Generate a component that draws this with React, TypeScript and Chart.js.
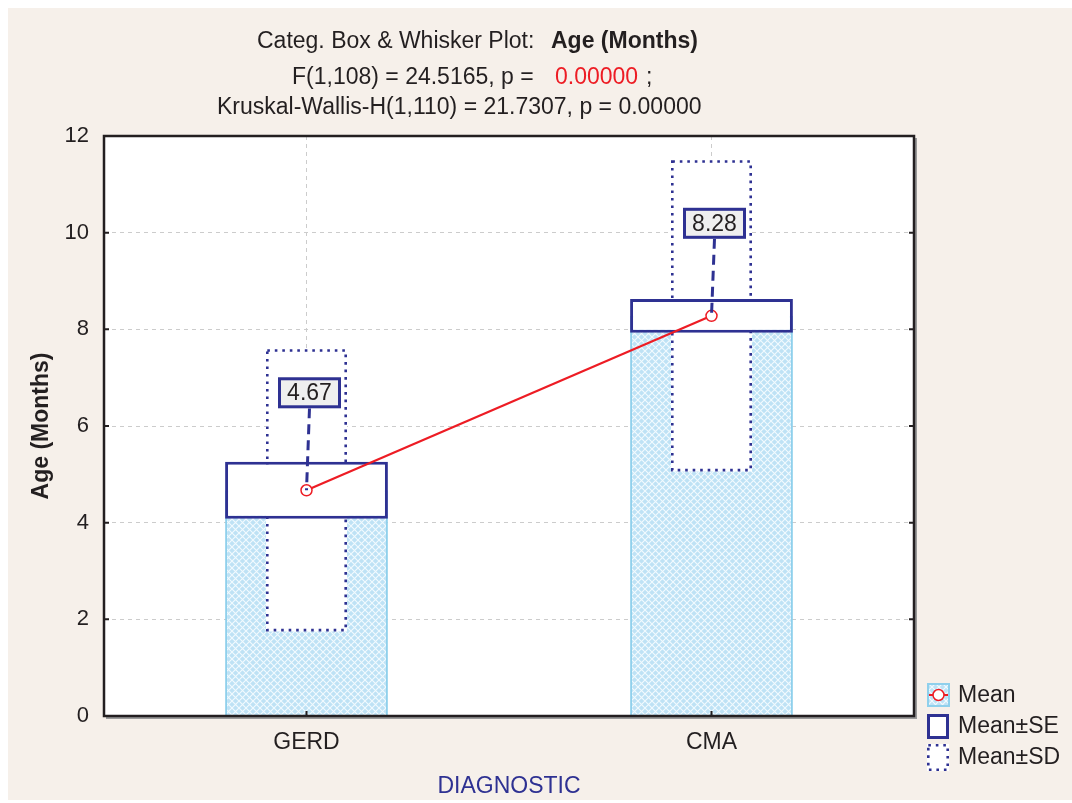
import React, { useEffect, useRef } from 'react';
import { Chart, registerables } from 'chart.js';

Chart.register(...registerables);

// ---- data ----
const categories = ['GERD', 'CMA'];
const meanValues = [4.67, 8.28];
const seValues = [0.59, 0.35];
const sdValues = [2.92, 3.22];
const yTicks = [0, 2, 4, 6, 8, 10, 12];

const titleLine1 = 'Categ. Box & Whisker Plot:';
const titleVar = 'Age (Months)';
const titleLine2 = 'F(1,108) = 24.5165, p =';
const titleP = '0.00000';
const titleLine3 = 'Kruskal-Wallis-H(1,110) = 21.7307, p = 0.00000';
const legendLabels = ['Mean', 'Mean\u00B1SE', 'Mean\u00B1SD'];

// ---- style ----
const FONT = "'Liberation Sans', Arial, Helvetica, sans-serif";
const NAVY = '#2e3192';
const RED = '#ed1c24';
const INK = '#231f20';
const BEIGE = '#f6f0ea';
const BAR_EDGE = '#8fd0ec';
const GRID = '#cccccc';
const FS = 23;
const W = 1064;
const H = 792;

function makeHatch(): CanvasPattern | string {
  const n = 7;
  const c = document.createElement('canvas');
  c.width = n;
  c.height = n;
  const g = c.getContext('2d');
  if (!g) return '#c8e8f7';
  g.fillStyle = '#bee2f5';
  g.fillRect(0, 0, n, n);
  g.strokeStyle = '#f2fafe';
  g.lineWidth = 1.1;
  g.beginPath();
  g.moveTo(0, 0);
  g.lineTo(n, n);
  g.moveTo(n, 0);
  g.lineTo(0, n);
  g.stroke();
  return g.createPattern(c, 'repeat') || '#c8e8f7';
}

function dottedRect(ctx: CanvasRenderingContext2D, l: number, t: number, r: number, b: number) {
  ctx.save();
  ctx.strokeStyle = NAVY;
  ctx.lineWidth = 2.6;
  ctx.setLineDash([2.6, 4.9]);
  ctx.lineCap = 'butt';
  const i = 1.3;
  ctx.strokeRect(l + i, t + i, r - l - 2 * i, b - t - 2 * i);
  ctx.restore();
}

const decorPlugin = {
  id: 'decor',
  beforeDraw(chart: any) {
    const { ctx, chartArea: a } = chart;
    ctx.save();
    ctx.fillStyle = '#ffffff';
    ctx.fillRect(a.left, a.top, a.right - a.left, a.bottom - a.top);
    ctx.restore();
  },
  afterDatasetDraw(chart: any, args: any) {
    if (args.index !== 1) return;
    const ctx = chart.ctx;
    const meta = chart.getDatasetMeta(1);
    meta.data.forEach((el: any) => {
      const p = el.getProps(['x', 'y', 'base', 'width'], true);
      const top = Math.min(p.y, p.base);
      const bot = Math.max(p.y, p.base);
      dottedRect(ctx, p.x - p.width / 2, top, p.x + p.width / 2, bot);
    });
  },
  afterDatasetsDraw(chart: any, _args: any, opts: any) {
    const { ctx, chartArea: a, scales } = chart;
    const lineMeta = chart.getDatasetMeta(3);
    const offsets: number[] = opts.labelOffsets || [80, 80];
    lineMeta.data.forEach((pt: any, i: number) => {
      const px = pt.x;
      const py = pt.y;
      const cx = px + 3;
      const bottom = py - offsets[i];
      const bw = 63;
      const bh = 31;
      ctx.save();
      ctx.strokeStyle = NAVY;
      ctx.lineWidth = 3;
      ctx.setLineDash([10, 6]);
      ctx.beginPath();
      ctx.moveTo(cx, bottom);
      ctx.lineTo(px, py);
      ctx.stroke();
      ctx.setLineDash([]);
      ctx.fillStyle = '#efefef';
      ctx.fillRect(cx - bw / 2, bottom - bh, bw, bh);
      ctx.lineWidth = 3;
      ctx.strokeRect(cx - bw / 2 + 1.5, bottom - bh + 1.5, bw - 3, bh - 3);
      ctx.fillStyle = INK;
      ctx.font = `${FS}px ${FONT}`;
      ctx.textAlign = 'center';
      ctx.textBaseline = 'middle';
      ctx.fillText(meanValues[i].toFixed(2), cx, bottom - bh / 2 + 1);
      ctx.restore();
    });
    // frame with shadow
    ctx.save();
    ctx.strokeStyle = '#9a9a9a';
    ctx.lineWidth = 2;
    ctx.beginPath();
    ctx.moveTo(a.right + 2, a.top + 2);
    ctx.lineTo(a.right + 2, a.bottom + 2);
    ctx.lineTo(a.left + 2, a.bottom + 2);
    ctx.stroke();
    ctx.strokeStyle = INK;
    ctx.lineWidth = 2.5;
    ctx.strokeRect(a.left, a.top, a.right - a.left, a.bottom - a.top);
    ctx.lineWidth = 2;
    ctx.beginPath();
    scales.y.ticks.forEach((t: any) => {
      const y = scales.y.getPixelForValue(t.value);
      ctx.moveTo(a.left, y);
      ctx.lineTo(a.left + 5, y);
      ctx.moveTo(a.right, y);
      ctx.lineTo(a.right - 5, y);
    });
    categories.forEach((_c, i) => {
      const x = scales.x.getPixelForValue(i);
      ctx.moveTo(x, a.bottom);
      ctx.lineTo(x, a.bottom - 5);
    });
    ctx.stroke();
    ctx.restore();
  },
  afterDraw(chart: any) {
    const ctx: CanvasRenderingContext2D = chart.ctx;
    ctx.save();
    ctx.textAlign = 'left';
    ctx.textBaseline = 'alphabetic';
    ctx.fillStyle = INK;
    ctx.font = `${FS}px ${FONT}`;
    ctx.fillText(titleLine1, 249, 40);
    ctx.font = `bold ${FS}px ${FONT}`;
    ctx.fillText(titleVar, 543, 40);
    ctx.font = `${FS}px ${FONT}`;
    ctx.fillText(titleLine2, 284, 76);
    ctx.fillStyle = RED;
    ctx.fillText(titleP, 547, 76);
    ctx.fillStyle = INK;
    ctx.fillText(';', 638, 76);
    ctx.fillText(titleLine3, 209, 106);

    // legend
    const lx = 919;
    const ys = [687, 718, 749];
    ctx.fillStyle = chart.$hatch;
    ctx.fillRect(lx, ys[0] - 12, 23, 24);
    ctx.strokeStyle = BAR_EDGE;
    ctx.lineWidth = 2;
    ctx.strokeRect(lx + 1, ys[0] - 11, 21, 22);
    ctx.strokeStyle = RED;
    ctx.lineWidth = 2;
    ctx.beginPath();
    ctx.moveTo(lx + 2, ys[0]);
    ctx.lineTo(lx + 21, ys[0]);
    ctx.stroke();
    ctx.fillStyle = '#ffffff';
    ctx.beginPath();
    ctx.arc(lx + 11.5, ys[0], 5.5, 0, Math.PI * 2);
    ctx.fill();
    ctx.lineWidth = 1.5;
    ctx.stroke();
    ctx.fillStyle = '#ffffff';
    ctx.fillRect(lx, ys[1] - 12, 22, 25);
    ctx.strokeStyle = NAVY;
    ctx.lineWidth = 3;
    ctx.strokeRect(lx + 1.5, ys[1] - 10.5, 19, 22);
    ctx.fillStyle = '#ffffff';
    ctx.fillRect(lx, ys[2] - 13, 22, 27);
    dottedRect(ctx, lx, ys[2] - 13, lx + 22, ys[2] + 14);

    ctx.fillStyle = INK;
    ctx.font = `${FS}px ${FONT}`;
    ctx.textBaseline = 'middle';
    legendLabels.forEach((t, i) => ctx.fillText(t, 950, ys[i] + 1));
    ctx.restore();
  },
};

export default function App() {
  const ref = useRef<HTMLCanvasElement | null>(null);

  useEffect(() => {
    if (!ref.current) return;
    const hatch = makeHatch();
    const chart = new Chart(ref.current, {
      type: 'bar',
      data: {
        labels: categories,
        datasets: [
          {
            type: 'bar',
            label: 'Mean',
            data: meanValues,
            backgroundColor: hatch as any,
            borderColor: BAR_EDGE,
            borderWidth: 2,
            borderSkipped: 'start',
            grouped: false,
            categoryPercentage: 1,
            barPercentage: 0.402,
            order: 4,
          },
          {
            type: 'bar',
            label: 'Mean±SD',
            data: meanValues.map((m, i) => [m - sdValues[i], m + sdValues[i]]) as any,
            backgroundColor: '#ffffff',
            borderWidth: 0,
            grouped: false,
            categoryPercentage: 1,
            barPercentage: 0.2,
            order: 3,
          },
          {
            type: 'bar',
            label: 'Mean±SE',
            data: meanValues.map((m, i) => [m - seValues[i], m + seValues[i]]) as any,
            backgroundColor: '#ffffff',
            borderColor: NAVY,
            borderWidth: 3,
            borderSkipped: false,
            grouped: false,
            categoryPercentage: 1,
            barPercentage: 0.402,
            order: 2,
          },
          {
            type: 'line',
            label: 'Mean line',
            data: meanValues,
            borderColor: RED,
            borderWidth: 2.2,
            pointRadius: 5.5,
            pointBackgroundColor: '#ffffff',
            pointBorderColor: RED,
            pointBorderWidth: 1.5,
            order: 1,
          } as any,
        ],
      },
      options: {
        responsive: false,
        animation: false,
        events: [],
        layout: { padding: { top: 128, right: 158, left: 0, bottom: 0 } },
        scales: {
          x: {
            type: 'category',
            offset: true,
            grid: { offset: false, drawTicks: false, color: GRID, lineWidth: 1 },
            border: { display: false, dash: [4, 4] },
            ticks: { color: INK, padding: 13, font: { family: FONT, size: FS } },
            title: {
              display: true,
              text: 'DIAGNOSTIC',
              color: NAVY,
              font: { family: FONT, size: FS },
              padding: { top: 0, bottom: 0 },
            },
            afterFit: (s: any) => {
              s.height = 84;
            },
          },
          y: {
            min: 0,
            max: 12,
            afterBuildTicks: (s: any) => {
              s.ticks = yTicks.map((v) => ({ value: v }));
            },
            grid: { drawTicks: false, color: GRID, lineWidth: 1 },
            border: { display: false, dash: [4, 4] },
            ticks: { color: INK, padding: 15, font: { family: FONT, size: 22 } },
            title: {
              display: true,
              text: 'Age (Months)',
              color: INK,
              font: { family: FONT, size: FS, weight: 'bold' },
              padding: { top: 20, bottom: 0 },
            },
            afterFit: (s: any) => {
              s.width = 96;
            },
          },
        },
        plugins: {
          legend: { display: false },
          tooltip: { enabled: false },
          title: { display: false },
          decor: { labelOffsets: [82, 77] },
        } as any,
      },
      plugins: [decorPlugin as any],
    });
    (chart as any).$hatch = hatch;
    chart.draw();
    return () => chart.destroy();
  }, []);

  return (
    <div
      style={{
        position: 'absolute',
        left: 8,
        top: 8,
        width: W,
        height: H,
        background: BEIGE,
      }}
    >
      <canvas ref={ref} width={W} height={H} style={{ display: 'block', width: W, height: H }} />
    </div>
  );
}
